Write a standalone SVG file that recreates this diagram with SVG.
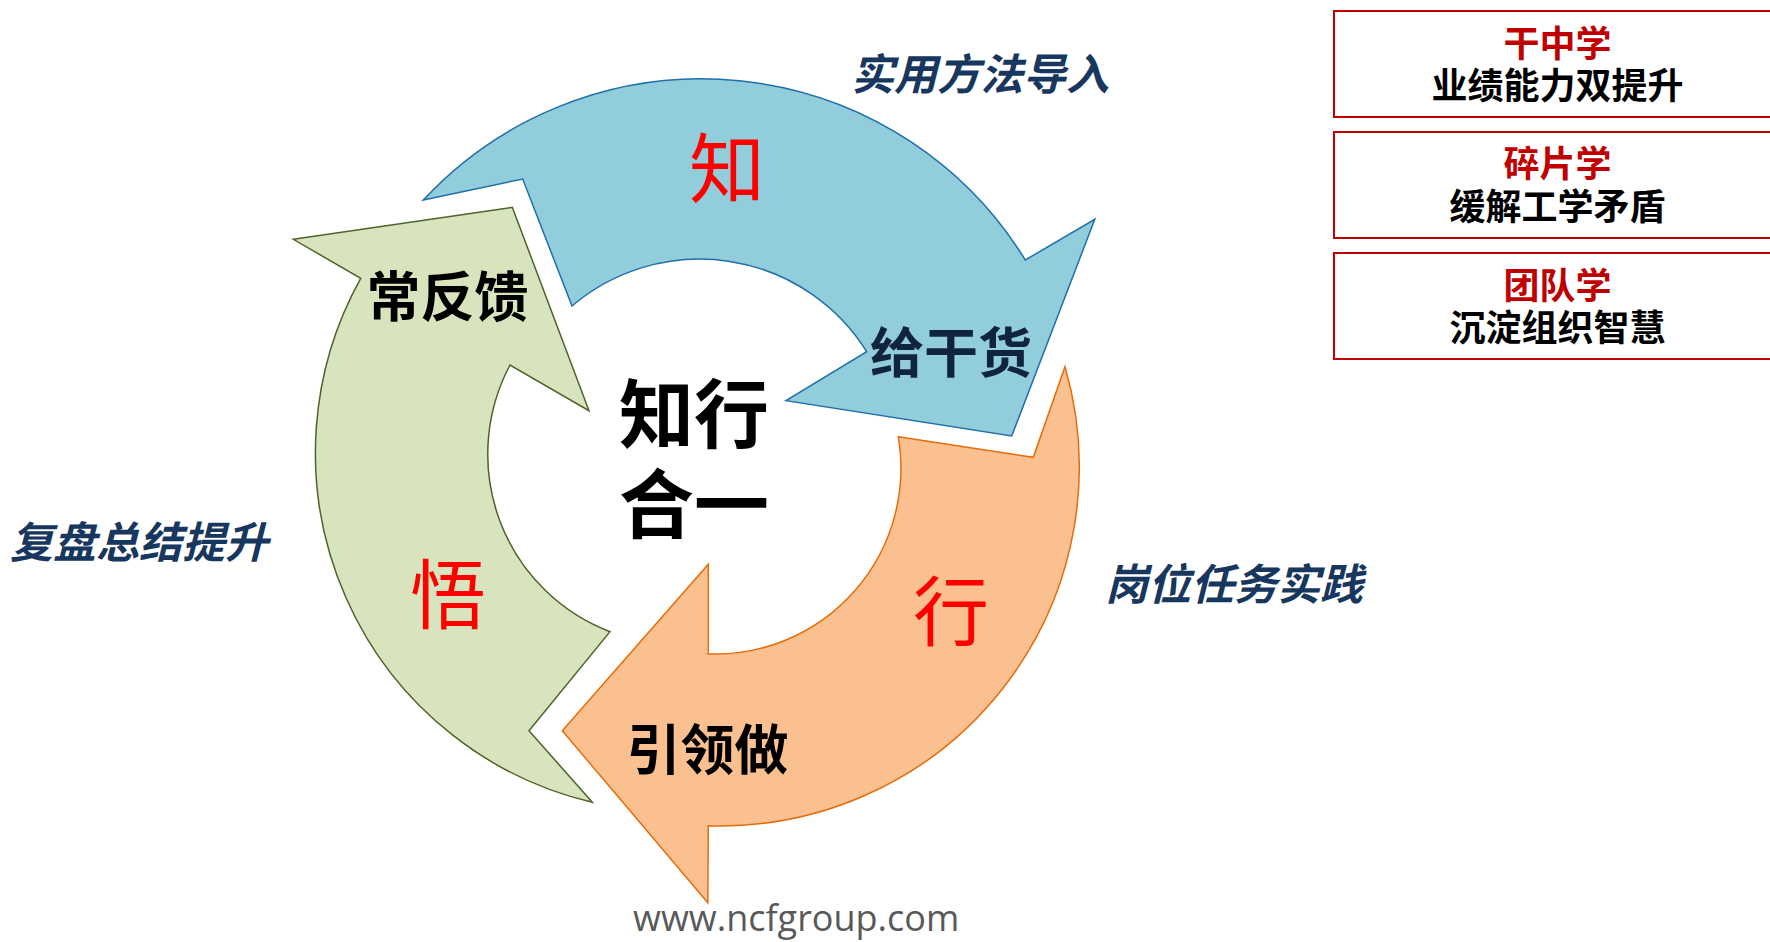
<svg xmlns="http://www.w3.org/2000/svg" width="1770" height="942" viewBox="0 0 1770 942">
<style>
.cjk{font-family:"Noto Sans CJK SC","Noto Sans",sans-serif;}
.red{fill:#FF0000;font-size:76px;text-anchor:middle;}
.blk{fill:#000;font-size:54px;font-weight:bold;text-anchor:middle;}
.lab{fill:#17375E;font-size:43px;font-weight:bold;font-style:italic;}
.bt{fill:#C00000;font-size:36px;font-weight:bold;text-anchor:middle;}
.bs{fill:#000;font-size:36px;font-weight:bold;text-anchor:middle;}
.box{fill:#fff;stroke:#C00000;stroke-width:2;}
</style>
<rect width="1770" height="942" fill="#fff"/>
<g id="connectors"></g>
<g id="arrow-wu">
<path d="M293.3,239.3 L512.3,207.3 L589,410.7 L510,365 A190,190 0 0 0 610,631.7 L529,730.7 L592.3,802.3 A359,359 0 0 1 360.7,278.3 Z" fill="#D7E4BD" stroke="#4F6228" stroke-width="1.5"/>
<text class="cjk red" x="448" y="623">悟</text>
<text class="cjk blk" x="447.5" y="317">常反馈</text>
</g>
<g id="arrow-zhi">
<path d="M423.3,200 L522.7,179 L572,306 A197,197 0 0 1 866.7,351.7 L786,400.7 L1011.7,436 L1094.8,219.3 L1025.3,260 A380,380 0 0 0 423.3,200 Z" fill="#92CDDC" stroke="#1F6FA8" stroke-width="1.5"/>
<text class="cjk red" x="727" y="197">知</text>
<text class="cjk blk" x="951" y="373" style="fill:#10243E">给干货</text>
</g>
<g id="arrow-xing">
<path d="M898.3,436.7 L1033.3,457.3 L1065,366.7 A359,359 0 0 1 708.3,825.7 L707.8,902.7 L562.3,730.7 L708.3,564.3 L708.3,654 A186,186 0 0 0 898.3,436.7 Z" fill="#FAC090" stroke="#E46C0A" stroke-width="1.5"/>
<text class="cjk red" x="951" y="640">行</text>
<text class="cjk blk" x="707.5" y="770">引领做</text>
</g>
<g id="center">
<text class="cjk blk" x="694" y="442" style="font-size:75px">知行</text>
<text class="cjk blk" x="694" y="532" style="font-size:75px">合一</text>
</g>
<g id="labels">
<text class="cjk lab" x="851" y="90">实用方法导入</text>
<text class="cjk lab" x="10" y="558">复盘总结提升</text>
<text class="cjk lab" x="1105" y="600">岗位任务实践</text>
</g>
<g id="box1">
<rect class="box" x="1334" y="11" width="450" height="106"/>
<text class="cjk bt" x="1557.5" y="57">干中学</text>
<text class="cjk bs" x="1557.5" y="99">业绩能力双提升</text>
</g>
<g id="box2">
<rect class="box" x="1334" y="132" width="450" height="106"/>
<text class="cjk bt" x="1557.5" y="177">碎片学</text>
<text class="cjk bs" x="1557.5" y="220">缓解工学矛盾</text>
</g>
<g id="box3">
<rect class="box" x="1334" y="253" width="450" height="106"/>
<text class="cjk bt" x="1557.5" y="299">团队学</text>
<text class="cjk bs" x="1557.5" y="341">沉淀组织智慧</text>
</g>
<g id="footer">
<text x="633" y="931" style="font-family:'Open Sans','Noto Sans',sans-serif;font-size:36px;fill:#595959">www.ncfgroup.com</text>
</g>
</svg>
